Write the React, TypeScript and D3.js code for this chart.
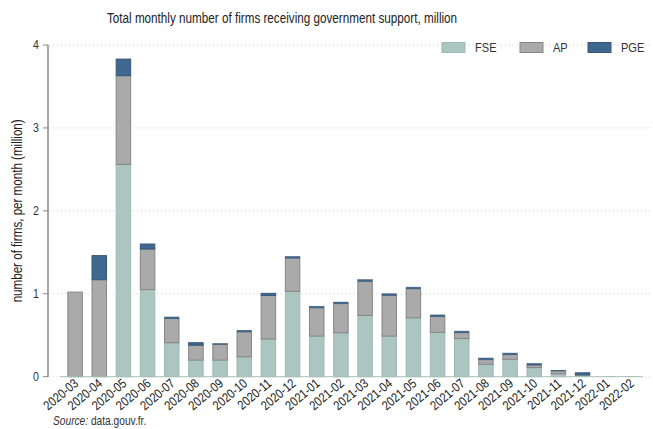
import React from "react";
import * as d3 from "d3";

const months = [
  "2020-03","2020-04","2020-05","2020-06","2020-07","2020-08","2020-09","2020-10",
  "2020-11","2020-12","2021-01","2021-02","2021-03","2021-04","2021-05","2021-06",
  "2021-07","2021-08","2021-09","2021-10","2021-11","2021-12","2022-01","2022-02",
];
const fse = [0, 0, 2.56, 1.05, 0.41, 0.20, 0.20, 0.24, 0.455, 1.03, 0.49, 0.53, 0.74, 0.49, 0.71, 0.535, 0.46, 0.15, 0.21, 0.11, 0.035, 0.01, 0.005, 0.005];
const ap = [1.02, 1.17, 1.07, 0.49, 0.29, 0.18, 0.19, 0.30, 0.525, 0.40, 0.34, 0.35, 0.41, 0.49, 0.35, 0.19, 0.07, 0.055, 0.055, 0.03, 0.035, 0.012, 0, 0];
const pge = [0, 0.29, 0.20, 0.06, 0.02, 0.03, 0.01, 0.02, 0.025, 0.02, 0.02, 0.02, 0.02, 0.02, 0.02, 0.02, 0.02, 0.02, 0.02, 0.02, 0.003, 0.025, 0, 0];
const yTicks = [0, 1, 2, 3, 4];
const seriesNames = ["FSE", "AP", "PGE"];
const fills = ["#abc5c0", "#aaaaaa", "#3f6890"];
const strokes = ["#9dbab4", "#858585", "#35587a"];

const FONT = "'Liberation Sans', Arial, sans-serif";
const SX = 0.82;

function NText({ x, y, rot = 0, sx = SX, children, ...rest }: any) {
  return (
    <text transform={`translate(${x},${y}) rotate(${rot}) scale(${sx},1)`} {...rest}>
      {children}
    </text>
  );
}

export default function App() {
  const W = 653, H = 429;
  const x = d3.scaleBand<string>().domain(months).range([63, 643]).paddingInner(0.4).paddingOuter(0.2);
  const y = d3.scaleLinear().domain([0, 4]).range([376.7, 45]);
  const data = months.map((m, i) => ({ m, FSE: fse[i], AP: ap[i], PGE: pge[i] }));
  const stack = d3.stack<any>().keys(seriesNames)(data);

  return (
    <svg width={W} height={H} style={{ position: "absolute", left: 0, top: 0, background: "#fff" }} fontFamily={FONT}>
      <NText x={282} y={23} textAnchor="middle" fontSize={15} fill="#222" sx={0.78}>
        Total monthly number of firms receiving government support, million
      </NText>
      {yTicks.map((t) => (
        <g key={t}>
          {t > 0 && (
            <line x1={49} x2={650} y1={y(t)} y2={y(t)} stroke="#cccccc" strokeDasharray="1,3" strokeWidth={1} />
          )}
          <line x1={43} x2={48} y1={y(t)} y2={y(t)} stroke="#888" />
          <NText x={39} y={y(t) + 4} textAnchor="end" fontSize={13} fill="#333">{t}</NText>
        </g>
      ))}
      <line x1={48} x2={48} y1={y(4)} y2={y(0)} stroke="#888" strokeWidth={1.5} />
      <NText x={22} y={(y(0) + y(4)) / 2} rot={-90} sx={0.8} textAnchor="middle" fontSize={14.5} fill="#222">
        number of firms, per month (million)
      </NText>
      <line x1={49} x2={650} y1={y(0)} y2={y(0)} stroke="#dddddd" strokeDasharray="1,3" />
      {stack.map((s, si) => (
        <g key={si}>
          {s.map((d, i) => {
            const h = y(d[0]) - y(d[1]);
            if (h <= 0) return null;
            return (
              <rect key={i} x={x(months[i])!} width={x.bandwidth()} y={y(d[1])} height={h}
                fill={fills[si]} stroke={strokes[si]} strokeWidth={h > 2 ? 1 : 0.5} />
            );
          })}
        </g>
      ))}
      <line x1={60} x2={643} y1={y(0)} y2={y(0)} stroke="#a8c0bb" strokeWidth={1} />
      {months.map((m) => {
        const cx = x(m)! + x.bandwidth() / 2;
        return (
          <NText key={m} x={cx + 4} y={y(0) + 8} rot={-40} sx={0.85} textAnchor="end" fontSize={13} fill="#222">
            {m}
          </NText>
        );
      })}
      {seriesNames.map((n, i) => {
        const lx = [442, 520, 588][i];
        return (
          <g key={n}>
            <rect x={lx} y={42.5} width={23} height={10} fill={fills[i]} stroke={strokes[i]} />
            <NText x={lx + 33} y={52} fontSize={13.5} fill="#333">{n}</NText>
          </g>
        );
      })}
      <NText x={53} y={425} fontSize={12} sx={0.85} fill="#333">
        <tspan fontStyle="italic">Source:</tspan> data.gouv.fr.
      </NText>
    </svg>
  );
}
